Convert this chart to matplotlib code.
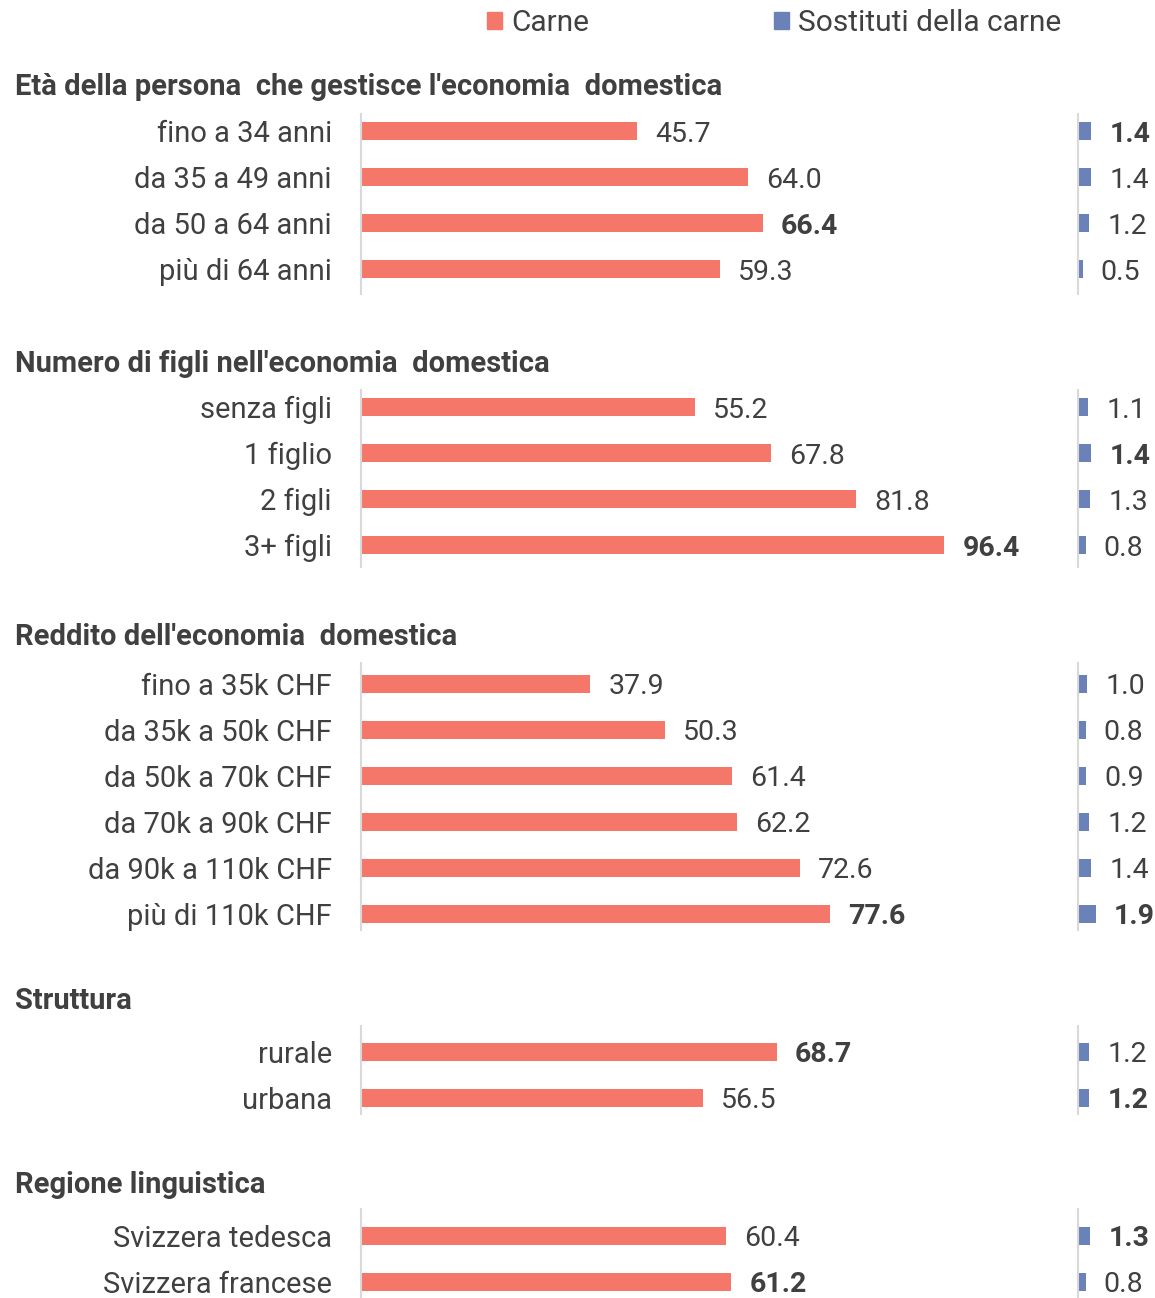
import matplotlib
matplotlib.use("Agg")
import matplotlib.pyplot as plt
from matplotlib.patches import Patch

plt.rcParams['font.family'] = ['Roboto', 'DejaVu Sans']

# ---- data ----
titles = [
    "Età della persona  che gestisce l'economia  domestica",
    "Numero di figli nell'economia  domestica",
    "Reddito dell'economia  domestica",
    "Struttura",
    "Regione linguistica",
]
categories = [
    ["fino a 34 anni", "da 35 a 49 anni", "da 50 a 64 anni", "più di 64 anni"],
    ["senza figli", "1 figlio", "2 figli", "3+ figli"],
    ["fino a 35k CHF", "da 35k a 50k CHF", "da 50k a 70k CHF",
     "da 70k a 90k CHF", "da 90k a 110k CHF", "più di 110k CHF"],
    ["rurale", "urbana"],
    ["Svizzera tedesca", "Svizzera francese"],
]
carne = [
    [45.7, 64.0, 66.4, 59.3],
    [55.2, 67.8, 81.8, 96.4],
    [37.9, 50.3, 61.4, 62.2, 72.6, 77.6],
    [68.7, 56.5],
    [60.4, 61.2],
]
sostituti = [
    [1.4, 1.4, 1.2, 0.5],
    [1.1, 1.4, 1.3, 0.8],
    [1.0, 0.8, 0.9, 1.2, 1.4, 1.9],
    [1.2, 1.2],
    [1.3, 0.8],
]
# highest value per group is printed in bold
carne_bold = [
    [False, False, True, False],
    [False, False, False, True],
    [False, False, False, False, False, True],
    [True, False],
    [False, True],
]
sost_bold = [
    [True, False, False, False],
    [False, True, False, False],
    [False, False, False, False, False, True],
    [False, True],
    [True, False],
]
legend_labels = ["Carne", "Sostituti della carne"]

# ---- style ----
C_CARNE = "#F4776A"
C_SOST = "#6B82B8"
C_TEXT = "#404040"
C_AXIS = "#D9D9D9"
FS = 20.5
FS_CAT = 21

W, H = 1155, 1298
fig = plt.figure(figsize=(W / 100, H / 100), dpi=100)

# panel layout in pixels: title y, axis-line top, axis-line bottom, first row y
layout = [
    (87, 114, 294, 131),
    (364, 390, 567, 407),
    (637, 663, 930, 684),
    (1001, 1026, 1114, 1052),
    (1185, 1209, 1298, 1236),
]
ROW = 46.0
BAR_H = 0.38

C_X0, C_X1, C_PX = 361, 1060, 6.05
S_X0, S_X1, S_PX = 1078, 1155, 9.4


def make_axes(x0, x1, top, bottom):
    return fig.add_axes([x0 / W, 1 - bottom / H, (x1 - x0) / W, (bottom - top) / H])


def style(ax, ytop, ybot, xmax):
    ax.set_ylim(ybot, ytop)
    ax.set_xlim(0, xmax)
    for s in ("top", "right", "bottom"):
        ax.spines[s].set_visible(False)
    ax.spines["left"].set_color(C_AXIS)
    ax.spines["left"].set_linewidth(1.5)
    ax.set_xticks([])
    ax.patch.set_alpha(0)


for g in range(len(titles)):
    ty, ltop, lbot, first = layout[g]
    n = len(categories[g])
    ytop = -(first - ltop) / ROW
    ybot = (lbot - first) / ROW
    ypos = list(range(n))

    fig.text(15 / W, 1 - ty / H, titles[g], ha="left", va="center",
             fontsize=21, fontweight="bold", color=C_TEXT)

    # meat
    ax = make_axes(C_X0, C_X1, ltop, lbot)
    style(ax, ytop, ybot, (C_X1 - C_X0) / C_PX)
    ax.barh(ypos, carne[g], height=BAR_H, color=C_CARNE)
    ax.set_yticks(ypos)
    ax.set_yticklabels(categories[g], fontsize=FS_CAT, color=C_TEXT)
    ax.tick_params(axis="y", length=0, pad=21)
    for y, v, b in zip(ypos, carne[g], carne_bold[g]):
        ax.annotate(f"{v:.1f}", (v, y), xytext=(13, 0), textcoords="offset points",
                    ha="left", va="center_baseline", fontsize=FS, color=C_TEXT,
                    fontweight="bold" if b else "normal")

    # meat substitutes
    ax2 = make_axes(S_X0, S_X1, ltop, lbot)
    style(ax2, ytop, ybot, (S_X1 - S_X0) / S_PX)
    ax2.barh(ypos, sostituti[g], height=BAR_H, color=C_SOST)
    ax2.set_yticks([])
    for y, v, b in zip(ypos, sostituti[g], sost_bold[g]):
        ax2.annotate(f"{v:.1f}", (v, y), xytext=(13, 0), textcoords="offset points",
                     ha="left", va="center_baseline", fontsize=FS, color=C_TEXT,
                     fontweight="bold" if b else "normal", annotation_clip=False)

handles = [Patch(color=C_CARNE), Patch(color=C_SOST)]
fig.legend(handles, legend_labels, loc="center left",
           bbox_to_anchor=(487 / W, 1 - 23 / H), ncol=2, frameon=False,
           fontsize=21.5, labelcolor=C_TEXT, handlelength=0.5, handleheight=0.5,
           handletextpad=0.3, columnspacing=6.2, borderpad=0, borderaxespad=0)

fig.savefig("out.png", dpi=100)
